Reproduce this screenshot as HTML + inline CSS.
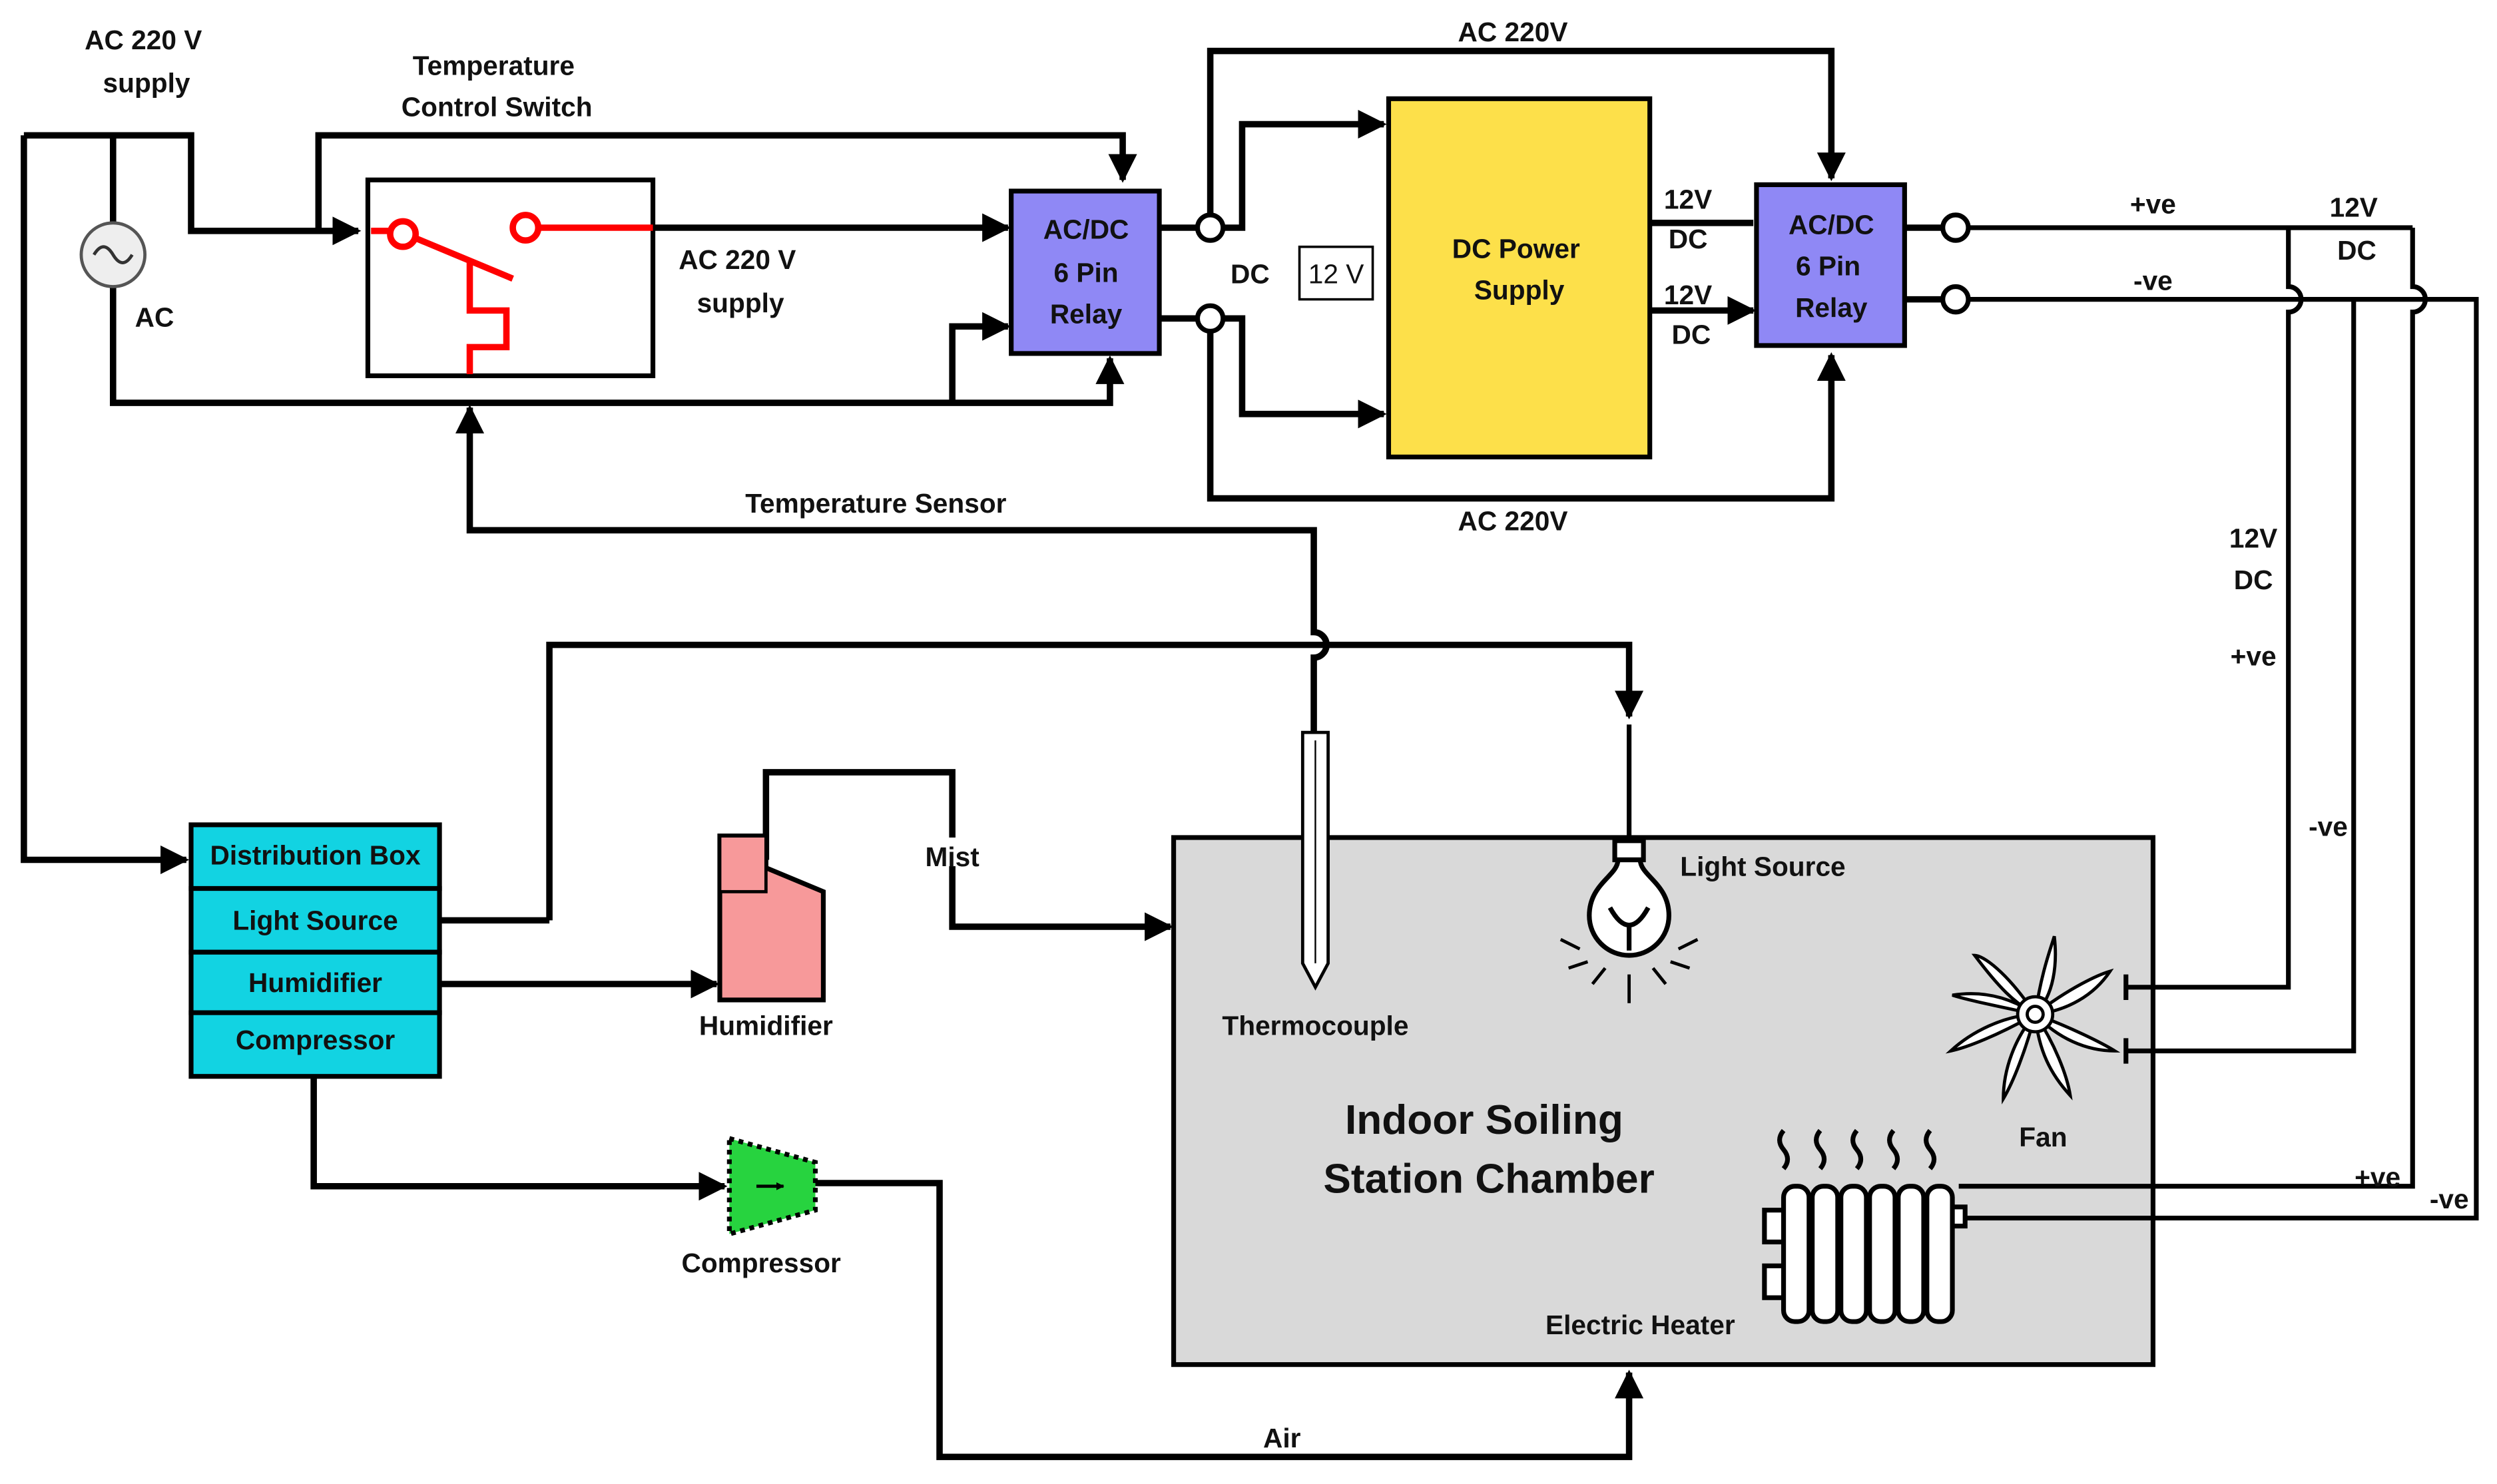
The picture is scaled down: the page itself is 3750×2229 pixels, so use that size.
<!DOCTYPE html>
<html><head><meta charset="utf-8"><style>
html,body{margin:0;padding:0;background:#fff}
svg{display:block}
text{font-family:"Liberation Sans",sans-serif;font-weight:bold;font-size:17px;fill:#111;text-anchor:middle}
</style></head><body>
<svg width="3750" height="2229" viewBox="0 0 1568 932" preserveAspectRatio="none" xmlns="http://www.w3.org/2000/svg">
<defs>
<marker id="a" viewBox="0 0 10 10" refX="9" refY="5" markerWidth="5" markerHeight="5" orient="auto" markerUnits="userSpaceOnUse"><path d="M0,0L10,5L0,10z" fill="#000"/></marker>
<marker id="A" viewBox="0 0 10 10" refX="9" refY="5" markerWidth="18" markerHeight="18" orient="auto" markerUnits="userSpaceOnUse"><path d="M0,0L10,5L0,10z" fill="#000"/></marker>
</defs>
<g fill="none" stroke="#000" stroke-width="4">
<path d="M15,85H120V145H225" marker-end="url(#A)"/>
<path d="M71,85V140"/>
<path d="M71,180V253H697V225" marker-end="url(#A)"/>
<path d="M15,85V540H117" marker-end="url(#A)"/>
<path d="M200,145V85H705V113" marker-end="url(#A)"/>
<path d="M410,143H633" marker-end="url(#A)"/>
<path d="M598,253V205H633" marker-end="url(#A)"/>
<path d="M825,460V413 A8,8 0 0 0 825,397 V333H295V256" marker-end="url(#A)"/>
<path d="M728,143H752M728,200H752"/>
<path d="M760,135V32H1150V112" marker-end="url(#A)"/>
<path d="M768,143H780V78H869" marker-end="url(#A)"/>
<path d="M768,200H780V260H869" marker-end="url(#A)"/>
<path d="M760,208V313H1150V223" marker-end="url(#A)"/>
<path d="M1036,140H1101M1036,195H1101" marker-end="url(#A)"/>
<path d="M1196,143H1220M1196,188H1220"/>
</g>
<rect x="231" y="113" width="179" height="123" fill="#fff" stroke="#000" stroke-width="3"/>
<circle cx="71" cy="160" r="20" fill="#eee" stroke="#555" stroke-width="2"/>
<path d="M59,160 q6,-10 12,0 q6,10 12,0" fill="none" stroke="#333" stroke-width="2"/>
<g stroke="#f00" stroke-width="4" fill="#fff">
<path d="M233,145H245M262,150L322,175M338,143H410M295,165V195H318V218H295V235" fill="none"/>
<circle cx="253" cy="147" r="8"/><circle cx="330" cy="143" r="8"/>
</g>
<rect x="635" y="120" width="93" height="102" fill="#8f88f5" stroke="#000" stroke-width="3"/>
<rect x="1103" y="116" width="93" height="101" fill="#8f88f5" stroke="#000" stroke-width="3"/>
<g fill="#fff" stroke="#000" stroke-width="3">
<circle cx="760" cy="143" r="8"/><circle cx="760" cy="200" r="8"/>
<circle cx="1228" cy="143" r="8"/><circle cx="1228" cy="188" r="8"/>
</g>
<rect x="816" y="155" width="46" height="33" fill="#fff" stroke="#000" stroke-width="1.5"/>
<rect x="872" y="62" width="164" height="225" fill="#fde04a" stroke="#000" stroke-width="3"/>
<rect x="737" y="526" width="615" height="331" fill="#d9d9d9" stroke="#000" stroke-width="3"/>
<g fill="none" stroke="#000" stroke-width="3">
<path d="M1236,143H1515"/>
<path d="M1236,188H1555V765H1230"/>
<path d="M1437,143V180 A8,8 0 0 1 1437,196 V620H1335"/>
<path d="M1478,188V660H1335"/>
<path d="M1515,143V180 A8,8 0 0 1 1515,196 V745H1230"/>
<path d="M1335,612V628M1335,652V668"/>
</g>
<g fill="none" stroke="#000" stroke-width="4">
<path d="M345,578V405H1023V450" marker-end="url(#A)"/>
<path d="M276,578H345"/>
<path d="M276,618H450" marker-end="url(#A)"/>
<path d="M481,540V485H598V582H735" marker-end="url(#A)"/>
<path d="M197,676V745H455" marker-end="url(#A)"/>
<path d="M512,743H590V915H1023V862" marker-end="url(#A)"/>
<path d="M1023,455V530" stroke-width="3"/>
</g>
<path d="M818,460H834V605L826,620L818,605Z" fill="#fff" stroke="#000" stroke-width="2"/>
<path d="M826,465V605" stroke="#000" stroke-width="1"/>
<g stroke="#000" stroke-width="3" fill="#fff">
<rect x="1014" y="528" width="18" height="12"/>
<path d="M1016,540 C1016,550 998,555 998,575 A25,25 0 0 0 1048,575 C1048,555 1030,550 1030,540Z"/>
<path d="M1011,570 q12,22 24,0" fill="none"/>
<path d="M1023,582V597" fill="none"/>
<path d="M980,590l12,6M985,608l12,-4M1000,618l8,-10M1023,630V612M1046,618l-8,-10M1061,608l-12,-4M1066,590l-12,6" fill="none" stroke-width="2"/>
</g>
<g stroke="#000" stroke-width="2" fill="#fff">
<path d="M1278,637 C1260,610 1245,600 1240,600 C1255,620 1265,630 1278,637Z M1278,637 C1282,610 1288,595 1290,588 C1292,605 1290,625 1278,637Z M1278,637 C1300,620 1318,612 1325,610 C1315,625 1298,635 1278,637Z M1278,637 C1300,645 1320,655 1328,660 C1310,660 1292,652 1278,637Z M1278,637 C1290,655 1298,675 1300,688 C1288,675 1280,660 1278,637Z M1278,637 C1272,660 1264,680 1258,690 C1258,672 1265,652 1278,637Z M1278,637 C1255,650 1235,658 1225,660 C1238,648 1258,638 1278,637Z M1278,637 C1255,632 1235,628 1226,625 C1245,622 1262,626 1278,637Z"/>
<circle cx="1278" cy="637" r="11"/><circle cx="1278" cy="637" r="5"/>
</g>
<g stroke="#000" stroke-width="3" fill="#fff">
<rect x="1108" y="760" width="14" height="20"/><rect x="1108" y="795" width="14" height="20"/>
<rect x="1120" y="745" width="16" height="85" rx="7"/><rect x="1138" y="745" width="16" height="85" rx="7"/>
<rect x="1156" y="745" width="16" height="85" rx="7"/><rect x="1174" y="745" width="16" height="85" rx="7"/>
<rect x="1192" y="745" width="16" height="85" rx="7"/><rect x="1210" y="745" width="16" height="85" rx="7"/>
<rect x="1226" y="758" width="8" height="12"/>
<path d="M1120,710q-5,6 0,12t0,12M1143,710q-5,6 0,12t0,12M1166,710q-5,6 0,12t0,12M1189,710q-5,6 0,12t0,12M1212,710q-5,6 0,12t0,12" fill="none"/>
</g>
<g fill="#12d3e2" stroke="#000" stroke-width="3">
<rect x="120" y="518" width="156" height="40"/><rect x="120" y="558" width="156" height="40"/>
<rect x="120" y="598" width="156" height="38"/><rect x="120" y="636" width="156" height="40"/>
</g>
<path d="M452,525H481V545L517,560V628H452Z" fill="#f7999a" stroke="#000" stroke-width="3"/>
<rect x="452" y="525" width="29" height="35" fill="#f7999a" stroke="#000" stroke-width="2"/>
<path d="M458,715L512,730V760L458,775Z" fill="#27d33f" stroke="#000" stroke-width="3" stroke-dasharray="3,3"/>
<path d="M475,745H492" stroke="#000" stroke-width="2" marker-end="url(#a)"/>
<rect x="578" y="526" width="40" height="18" fill="#fff"/>
<text x="90" y="31">AC 220 V</text><text x="92" y="58">supply</text>
<text x="310" y="47">Temperature</text><text x="312" y="73">Control Switch</text>
<text x="97" y="205">AC</text>
<text x="463" y="169">AC 220 V</text><text x="465" y="196">supply</text>
<text x="682" y="150">AC/DC</text><text x="682" y="177">6 Pin</text><text x="682" y="203">Relay</text>
<text x="1150" y="147">AC/DC</text><text x="1148" y="173">6 Pin</text><text x="1150" y="199">Relay</text>
<text x="950" y="26">AC 220V</text><text x="950" y="333">AC 220V</text>
<text x="785" y="178">DC</text><text x="839" y="178" style="font-weight:normal">12 V</text>
<text x="952" y="162">DC Power</text><text x="954" y="188">Supply</text>
<text x="1060" y="131">12V</text><text x="1060" y="156">DC</text>
<text x="1060" y="191">12V</text><text x="1062" y="216">DC</text>
<text x="1352" y="134">+ve</text><text x="1352" y="182">-ve</text>
<text x="1478" y="136">12V</text><text x="1480" y="163">DC</text>
<text x="1415" y="344">12V</text><text x="1415" y="370">DC</text>
<text x="1415" y="418">+ve</text><text x="1462" y="525">-ve</text>
<text x="1493" y="745">+ve</text><text x="1538" y="759">-ve</text>
<text x="550" y="322">Temperature Sensor</text>
<text x="198" y="543">Distribution Box</text><text x="198" y="584">Light Source</text>
<text x="198" y="623">Humidifier</text><text x="198" y="659">Compressor</text>
<text x="598" y="544">Mist</text><text x="481" y="650">Humidifier</text>
<text x="478" y="799">Compressor</text><text x="805" y="909">Air</text>
<text x="826" y="650">Thermocouple</text><text x="1107" y="550">Light Source</text>
<text x="1283" y="720">Fan</text><text x="1030" y="838">Electric Heater</text>
<text x="932" y="712" style="font-size:26px">Indoor Soiling</text>
<text x="935" y="749" style="font-size:26px">Station Chamber</text>
</svg>
</body></html>
